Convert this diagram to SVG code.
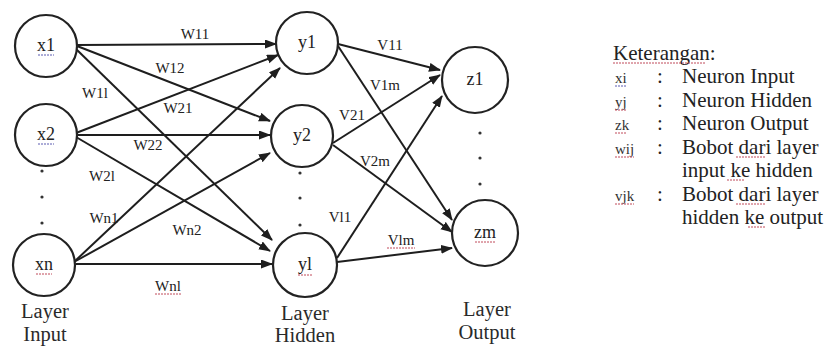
<svg xmlns="http://www.w3.org/2000/svg" width="837" height="347" viewBox="0 0 837 347">
  <style>
    .node circle { fill: #ffffff; stroke: #222222; stroke-width: 2.2; }
    .node text { font-size: 18px; fill: #222222; text-anchor: middle; }
    .edge { stroke: #1e1e1e; stroke-width: 2; fill: none; marker-end: url(#arrow); }
    .wlabel { font-size: 15px; fill: #222222; text-anchor: middle; }
    .layer { font-size: 20.5px; fill: #2a2a2a; text-anchor: middle; }
    .legend { font-size: 21px; fill: #222222; }
    .sym { font-size: 15px; fill: #333333; }
    .dot { fill: #333333; }
    .squig-r { stroke: #c04a5a; stroke-width: 1; stroke-dasharray: 2 1; fill: none; }
    .squig-b { stroke: #5a5ab0; stroke-width: 1; stroke-dasharray: 2 1; fill: none; }
  </style>
  <defs>
    <marker id="arrow" markerUnits="userSpaceOnUse" markerWidth="12" markerHeight="10" refX="11" refY="4.5" orient="auto">
      <path d="M0,0 L12,4.5 L0,9 z" fill="#1e1e1e"/>
    </marker>
  </defs>

  <rect width="837" height="347" fill="#ffffff"/>

  <g font-family="Liberation Serif, serif">
  <!-- connectors: input to hidden, hidden to output -->
  <g id="connectors">
    <line class="edge" x1="77" y1="45" x2="276" y2="44"/>
    <line class="edge" x1="77" y1="46" x2="270" y2="121"/>
    <line class="edge" x1="75" y1="48" x2="272" y2="240"/>
    <line class="edge" x1="76" y1="133" x2="278" y2="55"/>
    <line class="edge" x1="77" y1="135" x2="270" y2="135"/>
    <line class="edge" x1="76" y1="137" x2="270" y2="251"/>
    <line class="edge" x1="74" y1="262" x2="280" y2="68"/>
    <line class="edge" x1="74" y1="262" x2="270" y2="153"/>
    <line class="edge" x1="76" y1="264" x2="272" y2="264"/>

    <line class="edge" x1="338" y1="44" x2="440" y2="70"/>
    <line class="edge" x1="338" y1="46" x2="452" y2="220"/>
    <line class="edge" x1="333" y1="143" x2="440" y2="75"/>
    <line class="edge" x1="333" y1="145" x2="452" y2="232"/>
    <line class="edge" x1="337" y1="258" x2="442" y2="96"/>
    <line class="edge" x1="337" y1="262" x2="452" y2="248"/>

    <!-- weight labels -->
    <text class="wlabel" x="195" y="39">W11</text>
    <text class="wlabel" x="170" y="73">W12</text>
    <text class="wlabel" x="95" y="98">W1l</text>
    <text class="wlabel" x="178" y="113">W21</text>
    <text class="wlabel" x="148" y="150">W22</text>
    <text class="wlabel" x="102" y="181">W2l</text>
    <text class="wlabel" x="104" y="223">Wn1</text>
    <text class="wlabel" x="187" y="235">Wn2</text>
    <text class="wlabel" x="168" y="291">Wnl</text>
    <path class="squig-r" d="M155,294 h26"/>

    <text class="wlabel" x="390" y="50">V11</text>
    <text class="wlabel" x="385" y="90">V1m</text>
    <text class="wlabel" x="352" y="120">V21</text>
    <text class="wlabel" x="375" y="166">V2m</text>
    <text class="wlabel" x="340" y="222">Vl1</text>
    <text class="wlabel" x="401" y="245">Vlm</text>
    <path class="squig-r" d="M387,248 h28"/>
  </g>

  <!-- input layer -->
  <g id="node-x1" class="node">
    <circle cx="46" cy="46" r="31"/>
    <text x="46" y="51">x1</text>
    <path class="squig-b" d="M38,55 h16"/>
  </g>
  <g id="node-x2" class="node">
    <circle cx="46" cy="135" r="31"/>
    <text x="46" y="140">x2</text>
    <path class="squig-b" d="M38,144 h16"/>
  </g>
  <g id="node-xn" class="node">
    <circle cx="44" cy="265" r="31"/>
    <text x="44" y="270">xn</text>
    <path class="squig-r" d="M36,274 h16"/>
  </g>

  <!-- hidden layer -->
  <g id="node-y1" class="node">
    <circle cx="307" cy="43" r="31"/>
    <text x="307" y="48">y1</text>
  </g>
  <g id="node-y2" class="node">
    <circle cx="302" cy="136" r="31"/>
    <text x="302" y="141">y2</text>
  </g>
  <g id="node-yl" class="node">
    <circle cx="305" cy="265" r="32"/>
    <text x="305" y="270">yl</text>
    <path class="squig-r" d="M298,275 h14"/>
  </g>

  <!-- output layer -->
  <g id="node-z1" class="node">
    <circle cx="475" cy="80" r="33"/>
    <text x="475" y="85">z1</text>
  </g>
  <g id="node-zm" class="node">
    <circle cx="485" cy="233" r="33"/>
    <text x="485" y="238">zm</text>
    <path class="squig-r" d="M475,242 h21"/>
  </g>

  <!-- ellipsis dots -->
  <g id="ellipsis">
    <circle class="dot" cx="42" cy="171" r="1.6"/>
    <circle class="dot" cx="42" cy="197" r="1.6"/>
    <circle class="dot" cx="42" cy="223" r="1.6"/>
    <circle class="dot" cx="300" cy="173" r="1.6"/>
    <circle class="dot" cx="300" cy="198" r="1.6"/>
    <circle class="dot" cx="300" cy="225" r="1.6"/>
    <circle class="dot" cx="480" cy="133" r="1.6"/>
    <circle class="dot" cx="480" cy="158" r="1.6"/>
    <circle class="dot" cx="480" cy="184" r="1.6"/>
  </g>

  <!-- layer captions -->
  <g id="captions">
    <text class="layer" x="45" y="318">Layer</text>
    <text class="layer" x="45" y="341">Input</text>
    <text class="layer" x="305" y="320">Layer</text>
    <text class="layer" x="305" y="342">Hidden</text>
    <text class="layer" x="487" y="316">Layer</text>
    <text class="layer" x="487" y="339">Output</text>
  </g>

  <!-- legend -->
  <g id="legend">
    <text class="legend" x="613" y="60">Keterangan:</text>
    <path class="squig-r" d="M613,63 h92"/>
    <text class="sym" x="615" y="83">xi</text>
    <text class="sym" x="615" y="107">yj</text>
    <text class="sym" x="615" y="130">zk</text>
    <text class="sym" x="615" y="154">wij</text>
    <text class="sym" x="615" y="201">vjk</text>
    <path class="squig-b" d="M615,86 h12"/>
    <path class="squig-r" d="M615,110 h12"/>
    <path class="squig-r" d="M615,133 h12"/>
    <path class="squig-r" d="M615,157 h19"/>
    <path class="squig-r" d="M615,204 h19"/>
    <text class="legend" x="657" y="83">:</text>
    <text class="legend" x="657" y="107">:</text>
    <text class="legend" x="657" y="130">:</text>
    <text class="legend" x="657" y="154">:</text>
    <text class="legend" x="657" y="201">:</text>
    <text class="legend" x="682" y="83">Neuron Input</text>
    <text class="legend" x="682" y="107">Neuron Hidden</text>
    <text class="legend" x="682" y="130">Neuron Output</text>
    <text class="legend" x="682" y="154">Bobot dari layer</text>
    <text class="legend" x="682" y="177">input ke hidden</text>
    <text class="legend" x="682" y="201">Bobot dari layer</text>
    <text class="legend" x="682" y="224">hidden ke output</text>
    <path class="squig-r" d="M736,157 h30"/>
    <path class="squig-r" d="M727,180 h18"/>
    <path class="squig-r" d="M736,204 h30"/>
    <path class="squig-r" d="M748,227 h18"/>
  </g>
  </g>
</svg>
